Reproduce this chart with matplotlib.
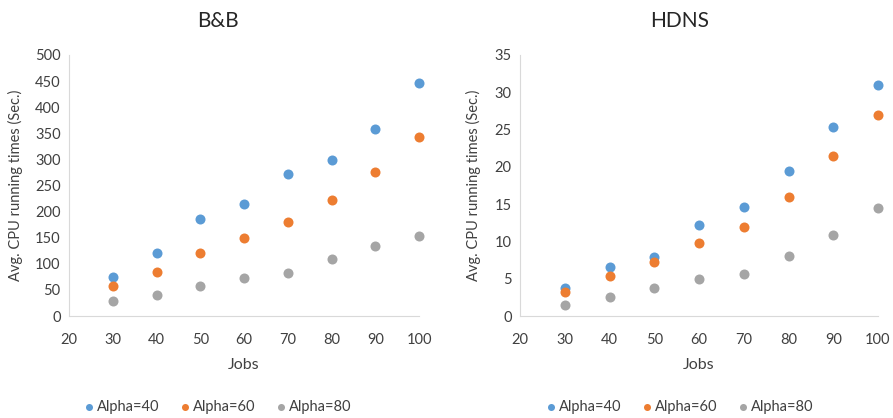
import numpy as np
import matplotlib
matplotlib.use("Agg")
import matplotlib.pyplot as plt

plt.rcParams['font.family'] = ['Lato', 'DejaVu Sans']

jobs = [30, 40, 50, 60, 70, 80, 90, 100]

# B&B running times (sec.)
bb_a40 = [75, 120, 186, 215, 272, 298, 359, 446]
bb_a60 = [58, 85, 120, 150, 180, 223, 276, 343]
bb_a80 = [28, 40, 57, 73, 83, 109, 134, 154]

# HDNS running times (sec.)
hd_a40 = [3.7, 6.6, 7.9, 12.2, 14.6, 19.4, 25.3, 31.0]
hd_a60 = [3.2, 5.3, 7.3, 9.8, 12.0, 15.9, 21.4, 26.9]
hd_a80 = [1.5, 2.6, 3.8, 4.9, 5.6, 8.1, 10.8, 14.5]

labels = ["Alpha=40", "Alpha=60", "Alpha=80"]
colors = ["#5B9BD5", "#ED7D31", "#A5A5A5"]

fig = plt.figure(figsize=(8.93, 4.18), dpi=100)
W, H = 893, 418

def make_axes(x0, x1, y0=55, y1=316):
    return fig.add_axes([x0 / W, (H - y1) / H, (x1 - x0) / W, (y1 - y0) / H])

ax1 = make_axes(69, 419)
ax2 = make_axes(520, 878)

# (axes, title, series, ymax, ystep, centre x of chart block, ylabel x)
panels = [
    (ax1, "B&B", [bb_a40, bb_a60, bb_a80], 500, 50, 218, -46 / 350),
    (ax2, "HDNS", [hd_a40, hd_a60, hd_a80], 35, 5, 680, -39 / 358),
]

for ax, title, series, ymax, ystep, cx, ylx in panels:
    for vals, lab, c in zip(series, labels, colors):
        ax.scatter(jobs, vals, s=52, color=c, label=lab, zorder=3,
                   linewidths=0, clip_on=False)
    ax.set_xlim(20, 100)
    ax.set_ylim(0, ymax)
    ax.set_xticks(range(20, 101, 10))
    ax.set_yticks(np.arange(0, ymax + ystep / 2, ystep))
    for s in ["top", "right"]:
        ax.spines[s].set_visible(False)
    for s in ["left", "bottom"]:
        ax.spines[s].set_color("#d9d9d9")
    ax.tick_params(length=0, labelsize=10.5, colors="#404040")
    ax.tick_params(axis="x", pad=12)
    ax.tick_params(axis="y", pad=6)
    ax.set_xlabel("Jobs", fontsize=11.5, color="#404040", labelpad=8)
    ax.set_ylabel("Avg. CPU running times (Sec.)", fontsize=10.5, color="#404040")
    ax.yaxis.set_label_coords(ylx, 0.5)

    fig.text(cx / W, (H - 21) / H, title, ha="center", va="center",
             fontsize=15, color="#262626")

    h, l = ax.get_legend_handles_labels()
    fig.legend(h, l, loc="center", bbox_to_anchor=(cx / W, (H - 407) / H),
               ncol=3, frameon=False, fontsize=10.5, handlelength=0.6,
               handletextpad=0.3, columnspacing=1.4, markerscale=0.7,
               labelcolor="#404040")

fig.savefig("out.png", dpi=100)
